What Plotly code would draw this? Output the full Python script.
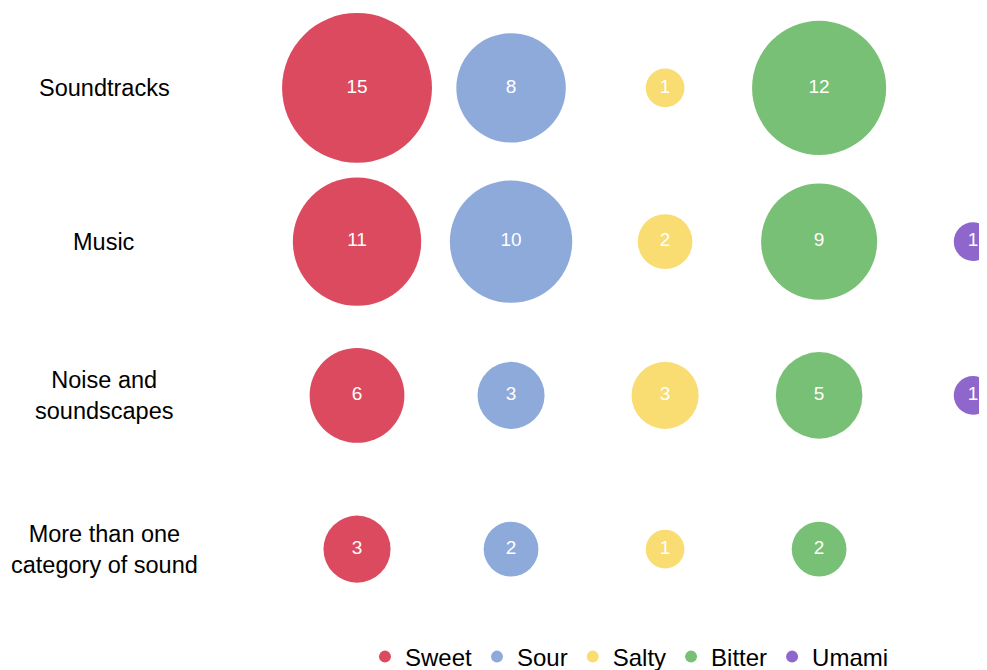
import plotly.graph_objects as go

categories = ["Soundtracks", "Music", "Noise and<br>soundscapes", "More than one<br>category of sound"]
tastes = ["Sweet", "Sour", "Salty", "Bitter", "Umami"]
sweet = [15, 11, 6, 3]
sour = [8, 10, 3, 2]
salty = [1, 2, 3, 1]
bitter = [12, 9, 5, 2]
umami = [None, 1, 1, None]

colors = ["#DB4A5F", "#8EAADB", "#F9DC72", "#78C076", "#8E66CC"]
series = [sweet, sour, salty, bitter, umami]

fig = go.Figure()
for taste, vals, col in zip(tastes, series, colors):
    xs = [taste if v else None for v in vals]
    fig.add_trace(go.Scatter(
        x=xs, y=categories, mode="markers+text", name=taste,
        text=[str(v) if v else "" for v in vals],
        textposition="middle center",
        textfont=dict(color="white", size=19, family="Liberation Sans, Arial"),
        marker=dict(size=[v if v else 0 for v in vals], sizemode="area",
                    sizeref=0.001335, color=col, opacity=1, line=dict(width=0)),
        cliponaxis=False, hoverinfo="skip",
    ))

for cat in categories:
    fig.add_annotation(x=-0.2489, xref="paper", y=cat, yref="y", text=cat,
                       showarrow=False, xanchor="center", yanchor="middle",
                       align="center",
                       font=dict(size=23.5, color="black", family="Liberation Sans, Arial"))

fig.update_layout(
    width=979, height=662,
    margin=dict(l=272, r=0, t=3, b=44),
    paper_bgcolor="white", plot_bgcolor="white",
    font=dict(family="Liberation Sans, Arial", color="black"),
    xaxis=dict(type="category", categoryorder="array", categoryarray=tastes,
               range=[-0.5, 4.09], showticklabels=False, showgrid=False,
               zeroline=False, showline=False, ticks=""),
    yaxis=dict(type="category", categoryorder="array", categoryarray=categories,
               range=[3.5, -0.5], showticklabels=False, showgrid=False,
               zeroline=False, showline=False, ticks=""),
    showlegend=True,
    legend=dict(orientation="h", x=0.4943, xanchor="center", xref="paper",
                y=0.0196, yanchor="middle", yref="container",
                itemsizing="constant", font=dict(size=24, color="black"),
                bgcolor="rgba(0,0,0,0)"),
)

fig.write_html("out.html")
